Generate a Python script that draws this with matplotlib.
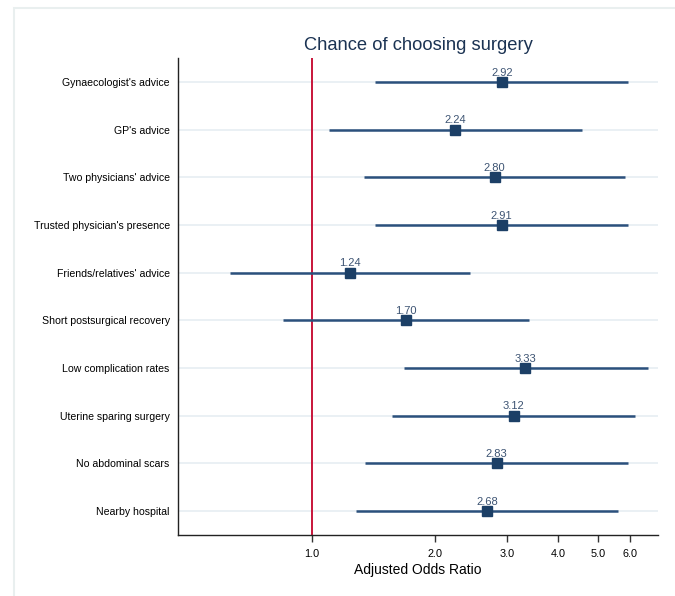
import matplotlib
matplotlib.use("Agg")
import matplotlib.pyplot as plt
import matplotlib.ticker as mticker
from matplotlib.patches import Rectangle

# Factors (top to bottom) with adjusted odds ratios and 95% CI
factors = [
    "Gynaecologist's advice",
    "GP's advice",
    "Two physicians' advice",
    "Trusted physician's presence",
    "Friends/relatives' advice",
    "Short postsurgical recovery",
    "Low complication rates",
    "Uterine sparing surgery",
    "No abdominal scars",
    "Nearby hospital",
]
odds_ratio = [2.92, 2.24, 2.80, 2.91, 1.24, 1.70, 3.33, 3.12, 2.83, 2.68]
ci_lower = [1.43, 1.10, 1.34, 1.43, 0.63, 0.85, 1.68, 1.57, 1.35, 1.28]
ci_upper = [5.94, 4.58, 5.84, 5.94, 2.44, 3.40, 6.64, 6.18, 5.93, 5.61]

tick_values = [1.0, 2.0, 3.0, 4.0, 5.0, 6.0]

FONT = ["Liberation Sans Narrow", "Liberation Sans", "DejaVu Sans"]
plt.rcParams["font.family"] = FONT

line_col = "#2b507c"
mark_col = "#1c3f66"
label_col = "#3d5473"

fig = plt.figure(figsize=(6.75, 5.96), dpi=100)
fig.patches.append(Rectangle((14 / 675, -0.05), 1, 1.05 - 8 / 596, transform=fig.transFigure,
                             fill=False, edgecolor="#e9efef", linewidth=1.5))
ax = fig.add_axes([0.2637, 0.1023, 0.7111, 0.8003])

n = len(factors)
ypos = list(range(n, 0, -1))

for y in ypos:
    ax.axhline(y, color="#e6edf2", linewidth=1.2, zorder=0)

ax.axvline(1.0, color="#c8153a", linewidth=1.4, zorder=1)

for y, orr, lo, hi in zip(ypos, odds_ratio, ci_lower, ci_upper):
    ax.plot([lo, hi], [y, y], color=line_col, linewidth=1.8, zorder=2, solid_capstyle="butt")
    ax.plot(orr, y, marker="s", markersize=7, color=mark_col, zorder=3)
    ax.text(orr, y + 0.09, f"{orr:.2f}", ha="center", va="bottom", fontsize=8,
            color=label_col, zorder=4)

ax.set_xscale("log")
ax.set_xlim(0.471, 7.02)
ax.set_ylim(0.5, n + 0.5)
ax.xaxis.set_major_locator(mticker.FixedLocator(tick_values))
ax.xaxis.set_minor_locator(mticker.NullLocator())
ax.xaxis.set_major_formatter(mticker.FixedFormatter([f"{v:.1f}" for v in tick_values]))
ax.set_yticks(ypos)
ax.set_yticklabels(factors)

ax.tick_params(axis="x", length=5, width=1, color="#333333", labelsize=7.8, pad=5)
ax.tick_params(axis="y", length=0, labelsize=7.6, pad=6)

for side in ["top", "right"]:
    ax.spines[side].set_visible(False)
for side in ["left", "bottom"]:
    ax.spines[side].set_color("#222222")
    ax.spines[side].set_linewidth(1.0)

ax.set_xlabel("Adjusted Odds Ratio", fontsize=10, labelpad=3)
ax.set_title("Chance of choosing surgery", fontsize=13.2, color="#1b3353", pad=6)

fig.savefig("out.png", dpi=100)
